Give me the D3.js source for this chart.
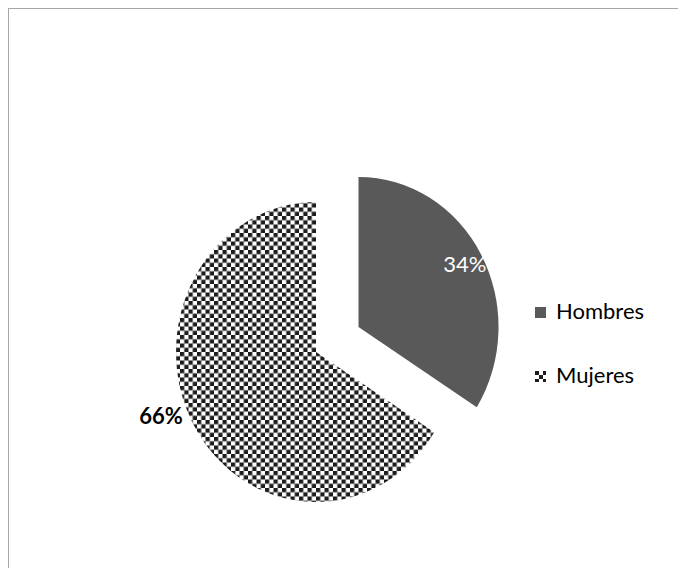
<!DOCTYPE html>
<html>
<head>
<meta charset="utf-8">
<script src="https://cdn.jsdelivr.net/npm/d3@7/dist/d3.min.js"></script>
<style>
  html, body { margin: 0; padding: 0; background: #fff; }
  svg { display: block; }
</style>
</head>
<body>
<script>
// ---- data ----
const categories = ["Hombres", "Mujeres"];
const values = [34, 66];
const valueLabels = ["34%", "66%"];
const exploded = [true, false];

// ---- layout ----
const W = 678, H = 568;
const cx = 316, cy = 352;        // pie centre
const R = 150;                   // vertical radius
const xScale = 140 / 150;        // horizontal squash of the original picture
const explode = 52;

const svg = d3.select("body").append("svg")
  .attr("width", W).attr("height", H);

// legend geometry
const lx = 535, ly0 = 307, lstep = 64, box = 11;

// pattern (checkerboard)
const defs = svg.append("defs");
function checker(id, cell, x, y, transform) {
  const p = defs.append("pattern")
    .attr("id", id)
    .attr("patternUnits", "userSpaceOnUse")
    .attr("x", x).attr("y", y)
    .attr("width", cell * 2).attr("height", cell * 2);
  if (transform) p.attr("patternTransform", transform);
  p.append("rect").attr("width", cell * 2).attr("height", cell * 2).attr("fill", "#ffffff");
  p.append("rect").attr("x", 0).attr("y", 0).attr("width", cell).attr("height", cell).attr("fill", "#1c1c1c");
  p.append("rect").attr("x", cell).attr("y", cell).attr("width", cell).attr("height", cell).attr("fill", "#1c1c1c");
}
checker("checker", 4.25, 0, 0, `scale(${1 / xScale},1)`);
checker("checkerLegend", 4, lx, ly0 + lstep, null);

// chart border
svg.append("rect")
  .attr("x", 8.5).attr("y", 8.5)
  .attr("width", W + 10).attr("height", H + 10)
  .attr("fill", "none")
  .attr("stroke", "#a6a6a6")
  .attr("stroke-width", 1);

const fills = ["#595959", "url(#checker)"];
const color = d3.scaleOrdinal().domain(categories).range(fills);
const legendFills = ["#595959", "url(#checkerLegend)"];
const legendColor = d3.scaleOrdinal().domain(categories).range(legendFills);

const pie = d3.pie().sort(null).value(d => d.value);
const data = categories.map((c, i) => ({ cat: c, value: values[i], label: valueLabels[i], exploded: exploded[i] }));
const arcs = pie(data);
const arc = d3.arc().innerRadius(0).outerRadius(R);

const g = svg.append("g")
  .attr("transform", `translate(${cx},${cy}) scale(${xScale},1)`);

function polar(angle, r) { return [Math.sin(angle) * r, -Math.cos(angle) * r]; }

arcs.forEach(a => {
  const mid = (a.startAngle + a.endAngle) / 2;
  const off = a.data.exploded ? polar(mid, explode) : [0, 0];
  const sg = g.append("g").attr("transform", `translate(${off[0]},${off[1]})`);
  sg.append("path")
    .attr("d", arc(a))
    .attr("fill", color(a.data.cat));
  a._off = off;
  a._mid = mid;
});

// data labels (drawn unscaled)
const font = "Lato, 'Open Sans', sans-serif";
arcs.forEach(a => {
  let p, fill, weight;
  if (a.data.exploded) {
    p = polar(a._mid, 130);
    fill = "#ffffff"; weight = "normal";
  } else {
    p = polar(a._mid + 0.135, 178);
    fill = "#000000"; weight = "bold";
  }
  svg.append("text")
    .attr("x", cx + (p[0] + a._off[0]) * xScale)
    .attr("y", cy + p[1] + a._off[1])
    .attr("dy", "0.35em")
    .attr("text-anchor", "middle")
    .attr("font-family", font)
    .attr("font-size", 22)
    .attr("font-weight", weight)
    .attr("fill", fill)
    .text(a.data.label);
});

// legend
const leg = svg.append("g");
categories.forEach((c, i) => {
  const y = ly0 + i * lstep;
  leg.append("rect")
    .attr("x", lx).attr("y", y)
    .attr("width", box).attr("height", box)
    .attr("fill", legendColor(c));
  leg.append("text")
    .attr("x", lx + 21).attr("y", y + box + 0.5)
    .attr("font-family", font)
    .attr("font-size", 22)
    .attr("fill", "#000")
    .text(c);
});
</script>
</body>
</html>
